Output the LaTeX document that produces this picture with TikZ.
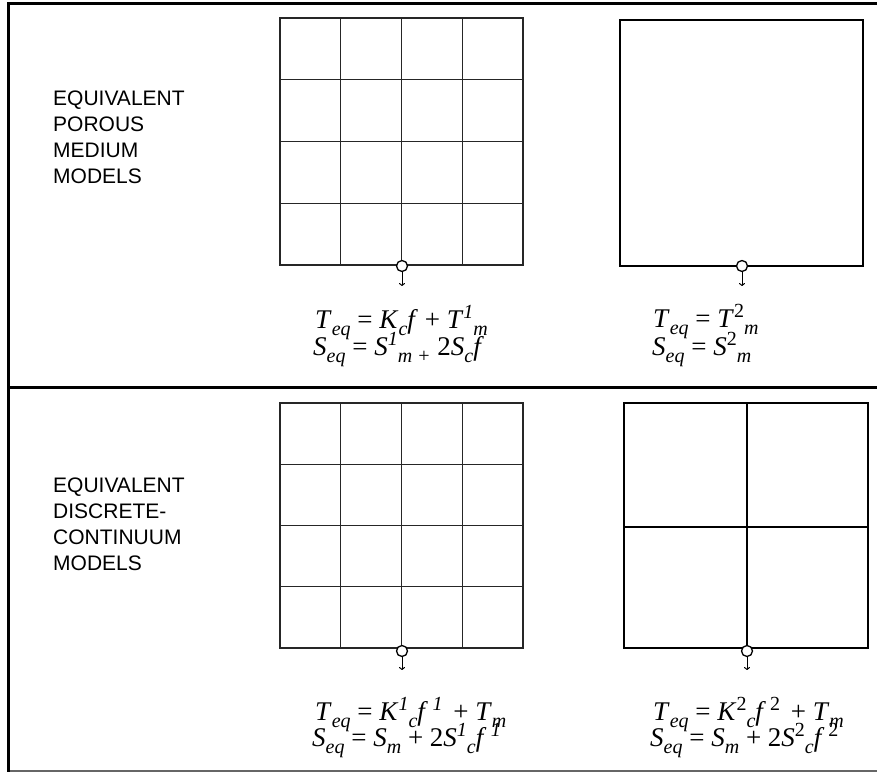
\documentclass[tikz,border=0pt]{standalone}
\usepackage{fontspec}
\setmainfont{Liberation Serif}
\newfontfamily\labelfont{Liberation Sans}
\usetikzlibrary{arrows.meta}
\newcommand\eqsz{\fontsize{27}{30}\selectfont}
\newcommand\dn[1]{\raisebox{-7pt}{\fontsize{20}{20}\selectfont\itshape #1}}
\newcommand\up[1]{\raisebox{9.5pt}{\fontsize{20}{20}\selectfont\itshape #1}}
\newcommand\upr[1]{\raisebox{9.5pt}{\fontsize{20}{20}\selectfont\upshape #1}}
\begin{document}
\begin{tikzpicture}[x=1pt,y=-1pt,
  frameline/.style={line width=3pt,draw=black},
  bottomline/.style={line width=1.4pt,draw=black!60},
  gridline/.style={line width=1.1pt,draw=black!85},
  boxline/.style={line width=1.3pt,draw=black},
  midline/.style={line width=1.5pt,draw=black},
  well/.style={circle,draw=black,fill=white,line width=1.3pt,minimum size=11pt,inner sep=0pt},
  wellarrow/.style={line width=1pt,-{To[length=3pt,width=6pt]}},
  lbl/.style={font=\labelfont\fontsize{21}{25.8}\selectfont,align=left,anchor=base west,inner sep=0pt},
  eqn/.style={font=\eqsz,anchor=base west,inner sep=0pt}]
\useasboundingbox (0,0) rectangle (877,773);
% frame
\draw[bottomline] (8,771) -- (877,771);
\draw[frameline] (8,4) -- (877,4);
\draw[frameline] (8,387) -- (877,387);
\draw[frameline] (8,2.5) -- (8,772);
% labels (anchor at the baseline of the last line)
\node[lbl] (lab1) at (53,183) {EQUIVALENT\\POROUS\\MEDIUM\\MODELS};
\node[lbl] (lab2) at (53,570) {EQUIVALENT\\DISCRETE-\\CONTINUUM\\MODELS};
% top-left grid
\draw[gridline] (280,18) rectangle (523,265);
\foreach \i in {1,2,3}{
  \draw[gridline] (280+60.75*\i,18) -- (280+60.75*\i,265);
  \draw[gridline] (280,18+61.75*\i) -- (523,18+61.75*\i);
}
% top-right box
\draw[boxline] (620,20) rectangle (863,266);
% bottom-left grid
\draw[gridline] (280,403) rectangle (523,648);
\foreach \i in {1,2,3}{
  \draw[gridline] (280+60.75*\i,403) -- (280+60.75*\i,648);
  \draw[gridline] (280,403+61.25*\i) -- (523,403+61.25*\i);
}
% bottom-right box
\draw[boxline] (624,403) rectangle (868,648);
\draw[midline] (747,403) -- (747,648);
\draw[midline] (624,527) -- (868,527);
% wells
\node[well] (w1) at (402,266) {};
\node[well] (w2) at (742,266) {};
\node[well] (w3) at (402,651) {};
\node[well] (w4) at (747,651) {};
\coordinate (e1) at (402,286);
\coordinate (e2) at (742,286);
\coordinate (e3) at (402,670);
\coordinate (e4) at (747,670);
\draw[wellarrow] (w1) -- (e1);
\draw[wellarrow] (w2) -- (e2);
\draw[wellarrow] (w3) -- (e3);
\draw[wellarrow] (w4) -- (e4);
% equations
\node[eqn] (q1a) at (315,328) {\textit{T}\dn{eq} = \textit{K}\dn{c}\textit{f} + \textit{T}\up{1}\dn{m}};
\node[eqn] (q1b) at (313,355) {\textit{S}\dn{eq} = \textit{S}\up{1}\dn{m +} 2\textit{S}\dn{c}\textit{f}};
\node[eqn] (q2a) at (653,327) {\textit{T}\dn{eq} = \textit{T}\upr{2}\dn{m}};
\node[eqn] (q2b) at (652,355) {\textit{S}\dn{eq} = \textit{S}\upr{2}\dn{m}};
\node[eqn] (q3a) at (315,720) {\textit{T}\dn{eq} = \textit{K}\up{1}\dn{c}\textit{f}\,\up{1}\hspace{4pt} + \textit{T}\dn{m}};
\node[eqn] (q3b) at (312,746) {\textit{S}\dn{eq} = \textit{S}\dn{m} + 2\textit{S}\up{1}\dn{c}\textit{f}\,\up{1}};
\node[eqn] (q4a) at (653,720) {\textit{T}\dn{eq} = \textit{K}\upr{2}\dn{c}\textit{f}\hspace{4pt}\upr{2}\hspace{4pt} + \textit{T}\dn{m}};
\node[eqn] (q4b) at (650,746) {\textit{S}\dn{eq} = \textit{S}\dn{m} + 2\textit{S}\upr{2}\dn{c}\textit{f}\hspace{4pt}\upr{2}};
\end{tikzpicture}
\end{document}
